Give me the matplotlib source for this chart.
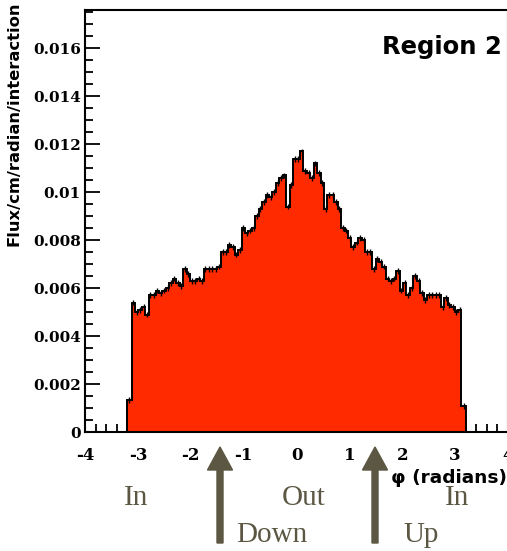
import numpy as np
import matplotlib
matplotlib.use("Agg")
import matplotlib.pyplot as plt
from matplotlib.ticker import MultipleLocator, FuncFormatter
from matplotlib.patches import FancyArrow

plt.rcParams['axes.unicode_minus'] = False

# flux per bin (phi from -3.12 to 3.12)
flux = [0.0054, 0.0050, 0.0051, 0.0052, 0.0049, 0.0057, 0.0057, 0.0059, 0.0058, 0.0059,
        0.0060, 0.0062, 0.0064, 0.0062, 0.0061, 0.0068, 0.0066, 0.0063, 0.0063, 0.0064,
        0.0063, 0.0068, 0.0068, 0.0068, 0.0068, 0.0069, 0.0075, 0.0075, 0.0078, 0.0077,
        0.0074, 0.0076, 0.0085, 0.0083, 0.0084, 0.0085, 0.0090, 0.0093, 0.0096, 0.0099,
        0.0098, 0.0100, 0.0104, 0.0106, 0.0107, 0.0094, 0.0103, 0.0114, 0.0114, 0.0117,
        0.0109, 0.0108, 0.0106, 0.0112, 0.0108, 0.0104, 0.0093, 0.0099, 0.0099, 0.0096,
        0.0093, 0.0085, 0.0084, 0.0081, 0.0077, 0.0079, 0.0081, 0.0080, 0.0075, 0.0075,
        0.0068, 0.0072, 0.0071, 0.0069, 0.0064, 0.0063, 0.0064, 0.0067, 0.0059, 0.0062,
        0.0057, 0.0060, 0.0065, 0.0063, 0.0058, 0.0055, 0.0057, 0.0057, 0.0057, 0.0057,
        0.0052, 0.0056, 0.0053, 0.0052, 0.0050, 0.0051]
edge_lo = 0.00135   # partly filled bin below -pi
edge_hi = 0.0011    # partly filled bin above +pi
err = 0.00012

vals = np.array([edge_lo] + flux + [edge_hi])
edges = np.concatenate([[-3.2], np.linspace(-3.12, 3.12, len(flux) + 1), [3.2]])
centers = 0.5 * (edges[:-1] + edges[1:])

W, H = 507, 551
fig = plt.figure(figsize=(W / 100, H / 100), dpi=100)
ax = fig.add_axes([85 / W, 119 / H, 423 / W, 422 / H])

ax.stairs(vals, edges, fill=True, color='#ff2a00', zorder=2)
ax.errorbar(centers, vals, yerr=err, fmt='none', ecolor='black', elinewidth=1.0, zorder=3)
ax.stairs(vals, edges, fill=False, color='black', linewidth=1.4, zorder=4)

ax.set_xlim(-4, 4)
ax.set_ylim(0, 0.0176)
ax.set_axisbelow(True)

ax.xaxis.set_major_locator(MultipleLocator(1))
ax.xaxis.set_minor_locator(MultipleLocator(0.2))
ax.yaxis.set_major_locator(MultipleLocator(0.002))
ax.yaxis.set_minor_locator(MultipleLocator(0.0005))
ax.yaxis.set_major_formatter(FuncFormatter(lambda v, p: '%g' % round(v, 6)))
ax.xaxis.set_major_formatter(FuncFormatter(lambda v, p: '%g' % v))

ax.tick_params(which='both', direction='in', top=False, right=False, width=1.3)
ax.tick_params(which='major', length=11)
ax.tick_params(which='minor', length=5.5)
ax.tick_params(axis='x', which='major', pad=11)
ax.tick_params(axis='y', which='major', pad=3)
for lab in ax.get_yticklabels():
    lab.set_fontfamily('DejaVu Serif')
    lab.set_fontweight('bold')
    lab.set_fontsize(11)
for lab in ax.get_xticklabels():
    lab.set_fontfamily('DejaVu Serif')
    lab.set_fontweight('bold')
    lab.set_fontsize(12)

for s in ax.spines.values():
    s.set_linewidth(1.5)
    s.set_zorder(5)

fig.text(14 / W, 1 - 2 / H, 'Flux/cm/radian/interaction', rotation=90,
         ha='center', va='top', fontsize=11.8, fontweight='bold', family='DejaVu Sans')
fig.text(507 / W, 1 - 478 / H, '\u03c6 (radians)', ha='right', va='center',
         fontsize=13.3, fontweight='bold', family='DejaVu Sans')
fig.text(502 / W, 1 - 47 / H, 'Region 2', ha='right', va='center',
         fontsize=17.5, fontweight='bold', family='DejaVu Sans')

olive = '#5b5742'
for txt, xp, yp in [('In', 136, 498), ('Out', 304, 498), ('In', 457, 498),
                    ('Down', 272, 535), ('Up', 421, 535)]:
    fig.text(xp / W, 1 - yp / H, txt, ha='center', va='center', fontsize=21,
             family='Liberation Serif', color=olive)

# the two arrows below the axis
for xp in (220, 375):
    fig.patches.append(FancyArrow(xp / W, 1 - 543 / H, 0, (543 - 447) / H,
                                  width=6 / W, head_width=25 / W, head_length=23 / H,
                                  length_includes_head=True, color=olive,
                                  transform=fig.transFigure, figure=fig))

fig.savefig('out.png', dpi=100)
